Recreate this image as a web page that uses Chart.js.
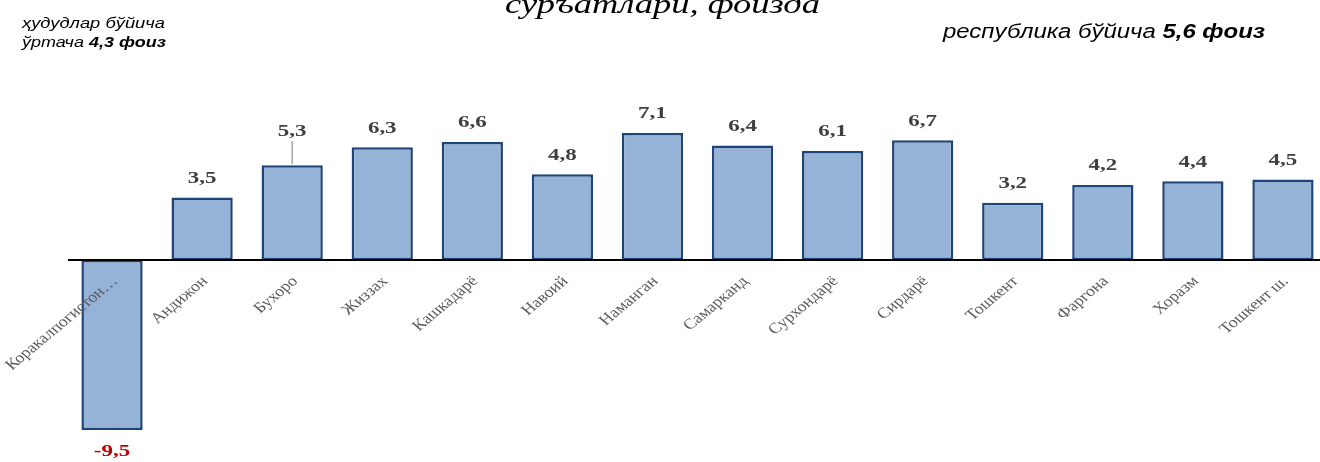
<!DOCTYPE html>
<html>
<head>
<meta charset="utf-8">
<script src="https://cdn.jsdelivr.net/npm/chart.js@4.4.1/dist/chart.umd.min.js"></script>
<style>
  html, body { margin: 0; padding: 0; background: #fff; overflow: hidden; }
  #wrap { width: 1330px; height: 462px; }
</style>
</head>
<body>
<div id="wrap"><canvas id="chart" width="1330" height="462"></canvas></div>
<script>
// regions and growth, percent
const regions = ['Коракалпогистон…', 'Андижон', 'Бухоро', 'Жиззах', 'Кашкадарё', 'Навоий', 'Наманган',
    'Самарканд', 'Сурхондарё', 'Сирдарё', 'Тошкент', 'Фаргона', 'Хоразм', 'Тошкент ш.'];
const growth = [-9.5, 3.5, 5.3, 6.3, 6.6, 4.8, 7.1, 6.4, 6.1, 6.7, 3.2, 4.2, 4.4, 4.5];

const titleText = 'суръатлари, фоизда';
const leftNote1 = [['ҳудудлар бўйича', false]];
const leftNote2 = [['ўртача ', false], ['4,3 фоиз', true]];
const rightNote = [['республика бўйича ', false], ['5,6 фоиз', true]];

const SX = 1.2; // the picture is stretched sideways

function fmt(v) {
    return v.toFixed(1).replace('.', ',');
}

// draw mixed normal/bold text squeezed to a given width
function richText(ctx, parts, x, y, size, family, italic, width) {
    let total = 0;
    parts.forEach(p => {
        ctx.font = (italic ? 'italic ' : '') + (p[1] ? 'bold ' : '') + size + 'px ' + family;
        total += ctx.measureText(p[0]).width;
    });
    ctx.save();
    ctx.translate(x, y);
    ctx.scale(width / total, 1);
    ctx.fillStyle = '#000';
    ctx.textAlign = 'left';
    ctx.textBaseline = 'alphabetic';
    let cx = 0;
    parts.forEach(p => {
        ctx.font = (italic ? 'italic ' : '') + (p[1] ? 'bold ' : '') + size + 'px ' + family;
        ctx.fillText(p[0], cx, 0);
        cx += ctx.measureText(p[0]).width;
    });
    ctx.restore();
}

const decor = {
    id: 'decor',
    afterDatasetsDraw(chart) {
        const ctx = chart.ctx;
        const xs = chart.scales.x;
        const ys = chart.scales.y;
        const y0 = ys.getPixelForValue(0);

        // zero line
        ctx.save();
        ctx.strokeStyle = '#000';
        ctx.lineWidth = 2;
        ctx.beginPath();
        ctx.moveTo(68, y0);
        ctx.lineTo(1320, y0);
        ctx.stroke();
        ctx.restore();

        // category labels, rotated
        regions.forEach((name, i) => {
            const x = xs.getPixelForValue(i);
            ctx.save();
            ctx.translate(x + 3, y0 + 19);
            ctx.scale(SX, 1);
            ctx.rotate(-Math.PI / 4);
            ctx.font = '15px "Liberation Serif", "Times New Roman", serif';
            ctx.fillStyle = '#595959';
            ctx.textAlign = 'right';
            ctx.textBaseline = 'middle';
            ctx.fillText(name, 0, 0);
            ctx.restore();
        });

        // value labels
        const meta = chart.getDatasetMeta(0);
        meta.data.forEach((bar, i) => {
            const v = growth[i];
            let ly = v < 0 ? bar.y + 22 : bar.y - 19;
            if (i === 2) {
                // label moved up with a leader line
                ly = bar.y - 34;
                ctx.save();
                ctx.strokeStyle = '#a6a6a6';
                ctx.lineWidth = 1.5;
                ctx.beginPath();
                ctx.moveTo(bar.x, ly + 10);
                ctx.lineTo(bar.x, bar.y - 1);
                ctx.stroke();
                ctx.restore();
            }
            ctx.save();
            ctx.translate(bar.x, ly);
            ctx.scale(1.35, 1);
            ctx.font = 'bold 17px "Liberation Serif", "Times New Roman", serif';
            ctx.fillStyle = v < 0 ? '#c00000' : '#404040';
            ctx.textAlign = 'center';
            ctx.textBaseline = 'middle';
            ctx.fillText(fmt(v), 0, 0);
            ctx.restore();
        });

        // texts around the chart
        richText(ctx, [[titleText, false]], 505, 13, 28, '"Liberation Serif", serif', true, 315);
        richText(ctx, leftNote1, 22, 28, 15, '"Liberation Sans", Arial, sans-serif', true, 143);
        richText(ctx, leftNote2, 22, 47, 15, '"Liberation Sans", Arial, sans-serif', true, 144);
        richText(ctx, rightNote, 943, 38, 20, '"Liberation Sans", Arial, sans-serif', true, 322);
    }
};

new Chart(document.getElementById('chart'), {
    type: 'bar',
    data: {
        labels: regions,
        datasets: [{
            data: growth,
            backgroundColor: '#95b3d7',
            borderColor: '#1f4478',
            borderWidth: 2.5,
            borderSkipped: false,
            barPercentage: 0.68,
            categoryPercentage: 1
        }]
    },
    options: {
        responsive: false,
        animation: false,
        layout: { padding: { left: 67, right: 2, top: 99, bottom: 14 } },
        plugins: {
            legend: { display: false },
            tooltip: { enabled: false }
        },
        scales: {
            x: { display: false },
            y: { display: false, min: -10.5, max: 9 }
        }
    },
    plugins: [decor]
});
</script>
</body>
</html>
